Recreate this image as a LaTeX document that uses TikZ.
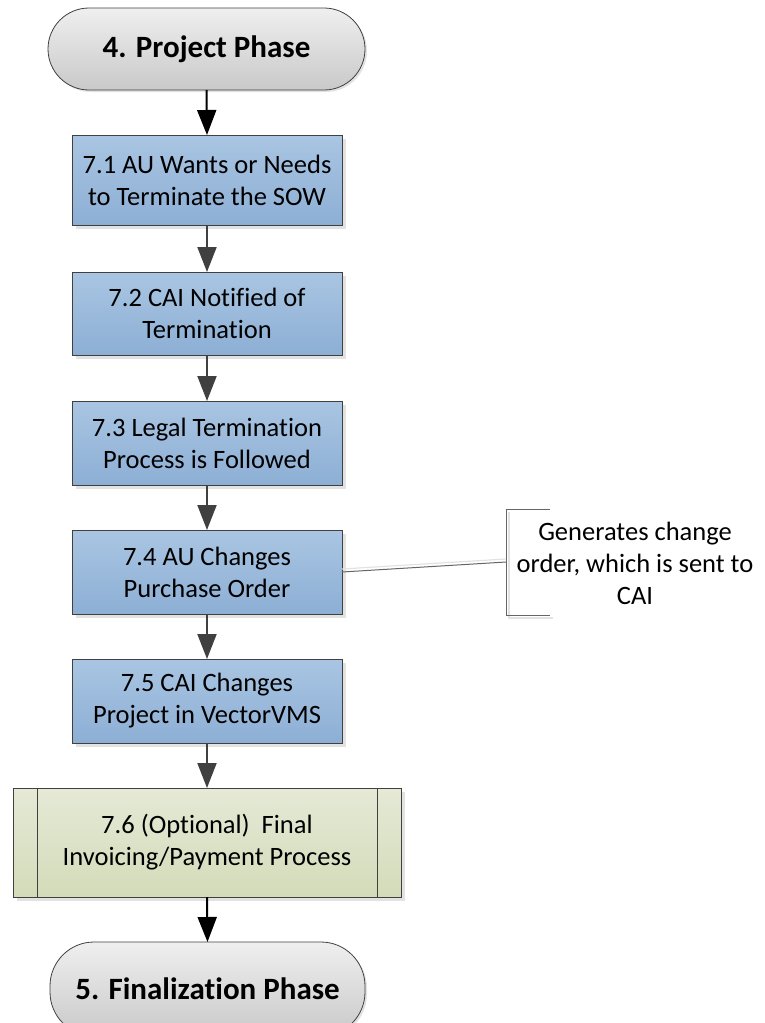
\documentclass[tikz,border=0pt]{standalone}
\usepackage{fontspec}
\setmainfont{Carlito}[Ligatures={NoCommon}]
\usetikzlibrary{arrows.meta,shadows}
\definecolor{edge}{HTML}{404040}
\definecolor{bluetop}{HTML}{A9C5E2}
\definecolor{bluebot}{HTML}{8DAFD5}
\definecolor{greentop}{HTML}{E5E9D6}
\definecolor{greenbot}{HTML}{D4DBB9}
\definecolor{graytop}{HTML}{EFEFEF}
\definecolor{graybot}{HTML}{C9C9C9}
\definecolor{shadowc}{HTML}{E2E2E2}
\tikzset{
  x=1pt, y=-1pt,
  every node/.style={inner sep=0pt, outer sep=0pt},
  txt/.style={font=\fontsize{26.5}{32}\selectfont, align=center},
  term/.style={draw=edge, line width=0.8pt, rounded corners=41pt,
    top color=graytop, bottom color=graybot,
    font=\fontsize{31}{36}\selectfont\bfseries,
    drop shadow={shadow xshift=2pt, shadow yshift=-2pt, fill=shadowc, opacity=1}},
  procbox/.style={txt, draw=edge, line width=0.9pt, minimum width=270pt,
    top color=bluetop, bottom color=bluebot,
    drop shadow={shadow xshift=4pt, shadow yshift=-4pt, fill=shadowc, opacity=1}},
  subbox/.style={txt, draw=edge, line width=0.9pt, minimum width=388pt, minimum height=109pt,
    top color=greentop, bottom color=greenbot,
    drop shadow={shadow xshift=4pt, shadow yshift=-4pt, fill=shadowc, opacity=1}},
  flow/.style={draw=edge, line width=2pt, -{Triangle[width=19pt,length=25pt]}},
  flowblack/.style={draw=black, line width=2pt, -{Triangle[width=19pt,length=25pt]}},
  bracketline/.style={draw=edge!80, line width=1pt},
  bracketshadow/.style={draw=shadowc, line width=1.5pt},
}
\begin{document}
\begin{tikzpicture}
\useasboundingbox (0,0) rectangle (764,1023);
\node[term, minimum width=317pt, minimum height=82pt] (t1) at (206.5,49) {4. Project Phase};
\node[procbox, minimum height=90pt] (b1) at (207,180) {7.1 AU Wants or Needs\\to Terminate the SOW};
\node[procbox, minimum height=83pt] (b2) at (207,313.5) {7.2 CAI Notified of\\Termination};
\node[procbox, minimum height=84pt] (b3) at (207,443) {7.3 Legal Termination\\Process is Followed};
\node[procbox, minimum height=84pt] (b4) at (207,572) {7.4 AU Changes\\Purchase Order};
\node[procbox, minimum height=84pt] (b5) at (207,701) {7.5 CAI Changes\\Project in VectorVMS};
\node[subbox] (b6) at (207,842.5) {7.6 (Optional)~~Final\\Invoicing/Payment Process};
\draw[edge, line width=0.9pt] ([xshift=24pt]b6.north west) -- ([xshift=24pt]b6.south west);
\draw[edge, line width=0.9pt] ([xshift=-24pt]b6.north east) -- ([xshift=-24pt]b6.south east);
\node[term, minimum width=315pt, minimum height=94pt, rounded corners=44pt] (t2) at (207.5,989) {5. Finalization Phase};

\draw[flowblack] (t1.south) -- (b1.north);
\draw[flow] (b1.south) -- (b2.north);
\draw[flow] (b2.south) -- (b3.north);
\draw[flow] (b3.south) -- (b4.north);
\draw[flow] (b4.south) -- (b5.north);
\draw[flow] (b5.south) -- (b6.north);
\draw[flowblack] (b6.south) -- (t2.north);

% annotation
\coordinate (bt) at (550,509);
\coordinate (btl) at (506,509);
\coordinate (bm) at (506,562);
\coordinate (bbl) at (506,615);
\coordinate (bb) at (550,615);
\draw[bracketshadow] ([shift={(3,3)}]btl) -- ([shift={(3,3)}]bbl) -- ([shift={(3,3)}]bb);
\draw[bracketline] (bt) -- (btl) -- (bbl) -- (bb);
\node[txt] (ann) at (635,563) {Generates change\\order, which is sent to\\CAI};
\draw[shadowc, line width=1.2pt] ([yshift=3pt]b4.east) -- ([yshift=3pt]bm);
\draw[bracketline] (b4.east) -- (bm);
\end{tikzpicture}
\end{document}
